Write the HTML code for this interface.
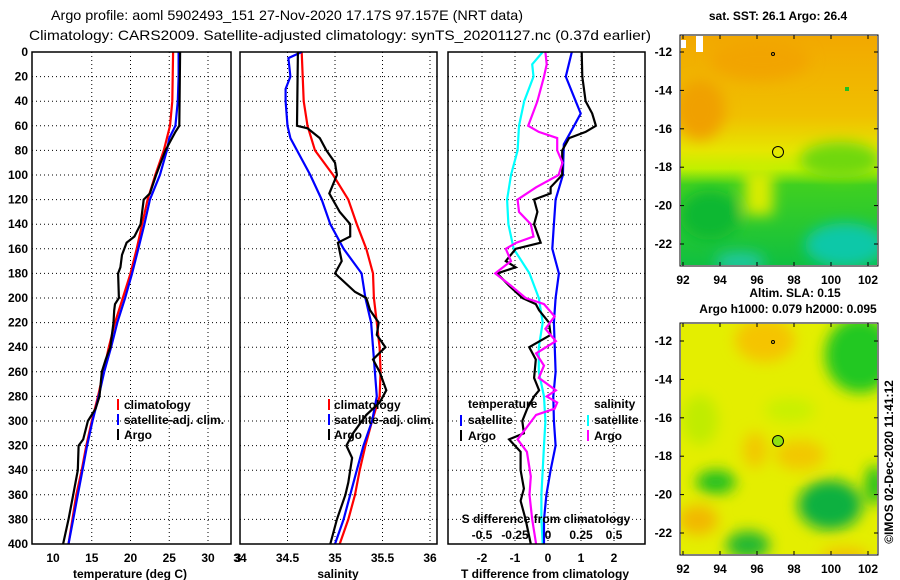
<!DOCTYPE html>
<html><head><meta charset="utf-8"><style>
body{margin:0;background:#fff;}
svg{display:block;font-family:"Liberation Sans",sans-serif;}
.t{font-size:12px;font-weight:bold;fill:#000;}
</style></head><body>
<svg id="c" width="900" height="580" viewBox="0 0 900 580">
<defs>
<filter id="bl" x="-20%" y="-20%" width="140%" height="140%"><feGaussianBlur stdDeviation="7"/></filter>
<clipPath id="cm1"><rect x="681" y="36" width="196" height="229"/></clipPath>
<clipPath id="cm2"><rect x="681" y="324" width="196" height="230"/></clipPath>
<linearGradient id="g1" x1="0" y1="0" x2="0" y2="1">
<stop offset="0" stop-color="#f2a800"/><stop offset="0.35" stop-color="#f0c000"/><stop offset="0.5" stop-color="#e6e600"/><stop offset="0.58" stop-color="#c0f000"/><stop offset="0.65" stop-color="#40d020"/><stop offset="1" stop-color="#10c040"/>
</linearGradient>
</defs>
<text x="287" y="20" text-anchor="middle" font-size="14" textLength="472" lengthAdjust="spacingAndGlyphs">Argo profile: aoml 5902493_151 27-Nov-2020 17.17S 97.157E (NRT data)</text>
<text x="340" y="40" text-anchor="middle" font-size="14" textLength="622" lengthAdjust="spacingAndGlyphs">Climatology: CARS2009. Satellite-adjusted climatology: synTS_20201127.nc (0.37d earlier)</text>
<g id="grid"></g>
<g id="lines"></g>
<g id="frames"></g>
<g id="labels"></g>

<g>
<rect x="117" y="399" width="2" height="11" fill="#f00"/><text class="t" x="124" y="409">climatology</text>
<rect x="117" y="414" width="2" height="11" fill="#00f"/><text class="t" x="124" y="424">satellite-adj. clim.</text>
<rect x="117" y="429" width="2" height="11" fill="#000"/><text class="t" x="124" y="439">Argo</text>
</g>
<g>
<rect x="328" y="399" width="2" height="11" fill="#f00"/><text class="t" x="334" y="409">climatology</text>
<rect x="328" y="414" width="2" height="11" fill="#00f"/><text class="t" x="334" y="424">satellite-adj. clim.</text>
<rect x="328" y="429" width="2" height="11" fill="#000"/><text class="t" x="334" y="439">Argo</text>
</g>
<g>
<text class="t" x="468" y="408">temperature</text><text class="t" x="594" y="408">salinity</text>
<rect x="460" y="415" width="2" height="11" fill="#00f"/><text class="t" x="468" y="424">satellite</text>
<rect x="460" y="430" width="2" height="11" fill="#000"/><text class="t" x="468" y="440">Argo</text>
<rect x="587" y="415" width="2" height="11" fill="#0ff"/><text class="t" x="594" y="424">satellite</text>
<rect x="587" y="430" width="2" height="11" fill="#f0f"/><text class="t" x="594" y="440">Argo</text>
</g>

<text class="t" x="778" y="20" text-anchor="middle">sat. SST: 26.1 Argo: 26.4</text>
<g clip-path="url(#cm1)">
<rect x="681" y="36" width="196" height="229" fill="url(#g1)"/>
<g filter="url(#bl)">
<ellipse cx="700" cy="110" rx="25" ry="30" fill="#f0a000"/>
<ellipse cx="760" cy="60" rx="50" ry="20" fill="#f2a400"/>
<rect x="745" y="170" width="28" height="45" fill="#d8ec00"/>
<ellipse cx="840" cy="160" rx="40" ry="18" fill="#70d810"/>
<ellipse cx="845" cy="245" rx="40" ry="22" fill="#10c8a8"/>
<ellipse cx="740" cy="262" rx="25" ry="10" fill="#20c8a0"/>
<ellipse cx="710" cy="215" rx="30" ry="25" fill="#10b830"/>
</g>
<rect x="681" y="40" width="5" height="8" fill="#fff"/><rect x="696" y="36" width="7" height="16" fill="#fff"/>
<rect x="845" y="87" width="4" height="4" fill="#20c020"/>
<circle cx="778" cy="152" r="5.5" fill="none" stroke="#000" stroke-width="1"/>
<circle cx="773" cy="54" r="1.5" fill="none" stroke="#000" stroke-width="1"/>
</g>
<rect x="680" y="35" width="198" height="231" fill="none" stroke="#000"/>
<text class="t" x="795" y="297" text-anchor="middle">Altim. SLA: 0.15</text>
<text class="t" x="788" y="313" text-anchor="middle">Argo h1000: 0.079 h2000: 0.095</text>
<g clip-path="url(#cm2)">
<rect x="681" y="324" width="196" height="230" fill="#e4ee00"/>
<g filter="url(#bl)">
<ellipse cx="765" cy="340" rx="30" ry="22" fill="#f5c400"/>
<ellipse cx="800" cy="455" rx="25" ry="15" fill="#f2c800"/>
<ellipse cx="755" cy="450" rx="12" ry="18" fill="#f2c800"/>
<ellipse cx="698" cy="520" rx="20" ry="15" fill="#f2b800"/>
<ellipse cx="845" cy="556" rx="25" ry="8" fill="#f2c000"/>
<ellipse cx="860" cy="355" rx="35" ry="38" fill="#20c820"/>
<ellipse cx="830" cy="505" rx="32" ry="25" fill="#10b040"/>
<ellipse cx="716" cy="482" rx="20" ry="12" fill="#20c020"/>
<ellipse cx="748" cy="545" rx="22" ry="14" fill="#20b830"/>
<ellipse cx="875" cy="485" rx="10" ry="20" fill="#20c020"/>
<ellipse cx="790" cy="410" rx="25" ry="12" fill="#c8f000"/>
<ellipse cx="700" cy="420" rx="18" ry="25" fill="#c0ec00"/>
</g>
<circle cx="778" cy="441" r="5.5" fill="#90e010" stroke="#000" stroke-width="1"/>
<circle cx="773" cy="342" r="1.5" fill="none" stroke="#000" stroke-width="1"/>
</g>
<rect x="680" y="323" width="198" height="232" fill="none" stroke="#000"/>
<g id="maplabels"></g>
<text class="t" x="0" y="0" transform="translate(893,462) rotate(-90)" text-anchor="middle" font-weight="normal" font-size="12">©IMOS 02-Dec-2020 11:41:12</text>
</svg>
<script>
const depthTicks=[0,20,40,60,80,100,120,140,160,180,200,220,240,260,280,300,320,340,360,380,400];
const tDepClim=[0,40,60,80,100,120,140,160,180,200,220,240,260,280,300,320,340,360,380,400];
const tClim=[25.5,25.4,25.1,24.3,23.2,22.2,21.5,20.8,20.0,19.0,18.0,17.2,16.5,15.8,15.0,14.3,13.7,13.0,12.5,12.0];
const tDepSat=[0,20,40,60,70,80,100,120,140,160,180,200,220,240,260,280,300,320,340,360,380,400];
const tSat=[26.2,26.2,26.1,25.8,25.0,24.7,23.8,22.5,21.8,21.0,20.2,19.3,18.3,17.5,16.6,15.9,15.1,14.4,13.8,13.2,12.6,12.0];
const tDepArgo=[0,60,65,80,100,115,120,140,150,155,165,175,180,200,205,210,220,240,250,260,280,290,300,315,320,340,360,380,400];
const tArgo=[26.4,26.3,25.8,24.5,23.3,22.5,21.7,21.3,20.5,19.5,18.9,18.7,18.4,18.5,18.0,17.9,17.8,17.4,16.8,16.3,16.0,15.5,14.5,13.9,13.3,13.2,12.6,12.0,11.3];
const sDepClim=[0,40,60,80,100,120,140,160,180,200,220,240,260,280,300,320,340,360,380,400];
const sClim=[34.65,34.67,34.71,34.79,34.98,35.14,35.23,35.33,35.40,35.41,35.44,35.47,35.48,35.47,35.39,35.32,35.26,35.21,35.14,35.05];
const sDepSat=[0,5,20,30,40,60,70,80,100,120,140,160,180,200,220,240,260,280,300,320,340,360,380,400];
const sSat=[34.65,34.51,34.53,34.48,34.48,34.50,34.53,34.60,34.74,34.86,34.95,35.09,35.28,35.32,35.38,35.40,35.42,35.44,35.39,35.30,35.23,35.16,35.09,35.00];
const sDepArgo=[0,60,62,70,80,90,100,115,130,140,150,155,170,180,195,200,210,220,230,240,250,260,275,285,295,310,320,330,350,360,380,400];
const sArgo=[34.61,34.60,34.71,34.84,34.91,35.00,35.02,34.94,35.05,35.16,35.16,35.03,35.07,35.00,35.21,35.33,35.37,35.46,35.44,35.53,35.40,35.47,35.54,35.47,35.33,35.19,35.12,35.18,35.14,35.11,35.02,34.95];
const dDepTSat=[0,20,40,50,60,75,100,120,140,160,170,180,200,220,260,280,300,320,340,360,380,400];
const dTSat=[0.72,0.54,0.84,0.99,0.79,0.48,0.45,0.23,0.18,0.13,0.23,0.33,0.23,0.18,0.23,0.16,0.18,0.23,0.08,-0.05,-0.12,-0.12];
const dDepTArgo=[0,20,40,50,60,65,70,80,100,110,115,120,130,140,155,160,170,175,180,190,200,205,210,220,230,240,250,265,275,280,290,300,310,315,325,340,355,365,380,400];
const dTArgo=[1.02,1.04,1.14,1.34,1.45,1.14,0.64,0.43,0.43,0.08,0.08,-0.42,-0.32,-0.42,-0.22,-0.98,-1.28,-0.98,-1.54,-1.18,-0.78,-0.37,-0.27,0.03,0.08,-0.57,-0.37,-0.42,-0.27,-0.42,-0.63,-0.78,-0.73,-1.18,-0.83,-0.83,-0.73,-0.83,-0.68,-0.52];
const dDepSSat=[0,10,20,40,60,80,100,120,140,160,180,200,220,240,260,280,300,320,340,360,380,400];
const dSSat=[-0.04,-0.12,-0.11,-0.18,-0.22,-0.23,-0.28,-0.31,-0.30,-0.26,-0.14,-0.07,-0.04,-0.07,-0.07,-0.03,-0.02,-0.03,-0.04,-0.05,-0.05,-0.04];
const dDepSArgo=[0,10,20,40,60,65,70,80,90,100,110,120,130,140,150,155,160,170,180,190,200,205,215,225,235,245,255,265,275,280,285,290,295,305,315,325,345,360,380,400];
const dSArgo=[-0.02,-0.01,-0.03,-0.08,-0.15,-0.07,0.07,0.07,0.11,0.08,-0.09,-0.23,-0.22,-0.13,-0.11,-0.24,-0.32,-0.28,-0.40,-0.28,-0.17,-0.03,0.05,-0.02,0.06,-0.09,-0.03,-0.07,0.06,-0.01,0.07,0.05,-0.09,-0.16,-0.23,-0.16,-0.13,-0.14,-0.12,-0.09];
const tTicks=[10,15,20,25,30];
const sTicks=["34","34.5","35","35.5","36"];
const dTTicks=["-2","-1","0","1","2"];
const dSTicks=["-0.5","-0.25","0","0.25","0.5"];
const latTicks=[-12,-14,-16,-18,-20,-22];
const lonTicks=[92,94,96,98,100,102];

const NS='http://www.w3.org/2000/svg';
function el(tag,attrs,parent,text){const e=document.createElementNS(NS,tag);for(const k in attrs)e.setAttribute(k,attrs[k]);if(text!==undefined)e.textContent=text;document.getElementById(parent).appendChild(e);return e;}
const TOP=52,BOT=544;
const Y=d=>TOP+d*(BOT-TOP)/400;
const P1={x0:32,x1:231,f:v=>53+(v-10)*7.75};
const P2={x0:240,x1:437,f:v=>240+(v-34)*95};
const P3={x0:448,x1:645,f:v=>548+v*33};
const S3=v=>548+v*132;
[P1,P2,P3].forEach(p=>{
  depthTicks.forEach(d=>{ if(d>0&&d<400){const l=el('line',{x1:p.x0,x2:p.x1,y1:Y(d),y2:Y(d),stroke:'#000','stroke-dasharray':'1 3'},'grid');
  
  }});
});
function vgrid(x){const l=el('line',{x1:x,x2:x,y1:TOP,y2:BOT,stroke:'#000','stroke-dasharray':'1 3'},'grid');

}
tTicks.slice(1).forEach(v=>vgrid(P1.f(v)));
sTicks.slice(1).forEach(v=>vgrid(P2.f(+v)));
dTTicks.forEach(v=>vgrid(P3.f(+v)));
function line(xs,ds,fx,color,name){
  const pts=xs.map((v,i)=>fx(v).toFixed(1)+','+Y(ds[i]).toFixed(1)).join(' ');
  const e=el('polyline',{points:pts,fill:'none',stroke:color,'stroke-width':2.2},'lines');
  
  
}
line(tClim,tDepClim,P1.f,'#f00','temp-climatology-line');
line(tSat,tDepSat,P1.f,'#00f','temp-satellite-line');
line(tArgo,tDepArgo,P1.f,'#000','temp-argo-line');
line(sClim,sDepClim,P2.f,'#f00','sal-climatology-line');
line(sSat,sDepSat,P2.f,'#00f','sal-satellite-line');
line(sArgo,sDepArgo,P2.f,'#000','sal-argo-line');
line(dSSat,dDepSSat,S3,'#0ff','sdiff-satellite-line');
line(dTSat,dDepTSat,P3.f,'#00f','tdiff-satellite-line');
line(dTArgo,dDepTArgo,P3.f,'#000','tdiff-argo-line');
line(dSArgo,dDepSArgo,S3,'#f0f','sdiff-argo-line');
[P1,P2,P3].forEach((p,i)=>{const r=el('rect',{x:p.x0,y:TOP,width:p.x1-p.x0,height:BOT-TOP,fill:'none',stroke:'#000','stroke-width':1.5},'frames');

});
depthTicks.forEach(d=>{const t=el('text',{x:28,y:Y(d)+4,'text-anchor':'end','class':'t'},'labels',String(d));

});
function xl(x,y,s,name){const t=el('text',{x:x,y:y,'text-anchor':'middle','class':'t'},'labels',s);

}
tTicks.forEach(v=>xl(P1.f(v),562,String(v),'temp-tick-label'));
xl(238,562,'3','temp-tick-label');
sTicks.forEach(v=>xl(P2.f(+v),562,v,'sal-tick-label'));
dTTicks.forEach(v=>xl(P3.f(+v),562,v,'tdiff-tick-label'));
dSTicks.forEach(v=>xl(S3(+v),539,v,'sdiff-tick-label'));
xl(130,578,'temperature (deg C)','temp-axis-title');
xl(338,578,'salinity','sal-axis-title');
xl(545,578,'T difference from climatology','tdiff-axis-title');
xl(546,523,'S difference from climatology','sdiff-axis-title');
latTicks.forEach(v=>{[52,341].forEach(y0=>{const y=y0+(-12-v)*19.2;
const t=el('text',{x:672,y:y+4,'text-anchor':'end','class':'t'},'maplabels',String(v));


el('line',{x1:680,x2:684,y1:y,y2:y,stroke:'#000'},'maplabels');el('line',{x1:874,x2:878,y1:y,y2:y,stroke:'#000'},'maplabels');});});
lonTicks.forEach(v=>{const x=683+(v-92)*18.5;[284,573].forEach(y=>{
const t=el('text',{x:x,y:y,'text-anchor':'middle','class':'t'},'maplabels',String(v));

});
[[35,266],[323,555]].forEach(([a,b])=>{el('line',{x1:x,x2:x,y1:a,y2:a+4,stroke:'#000'},'maplabels');el('line',{x1:x,x2:x,y1:b-4,y2:b,stroke:'#000'},'maplabels');});});
</script>
</body></html>
